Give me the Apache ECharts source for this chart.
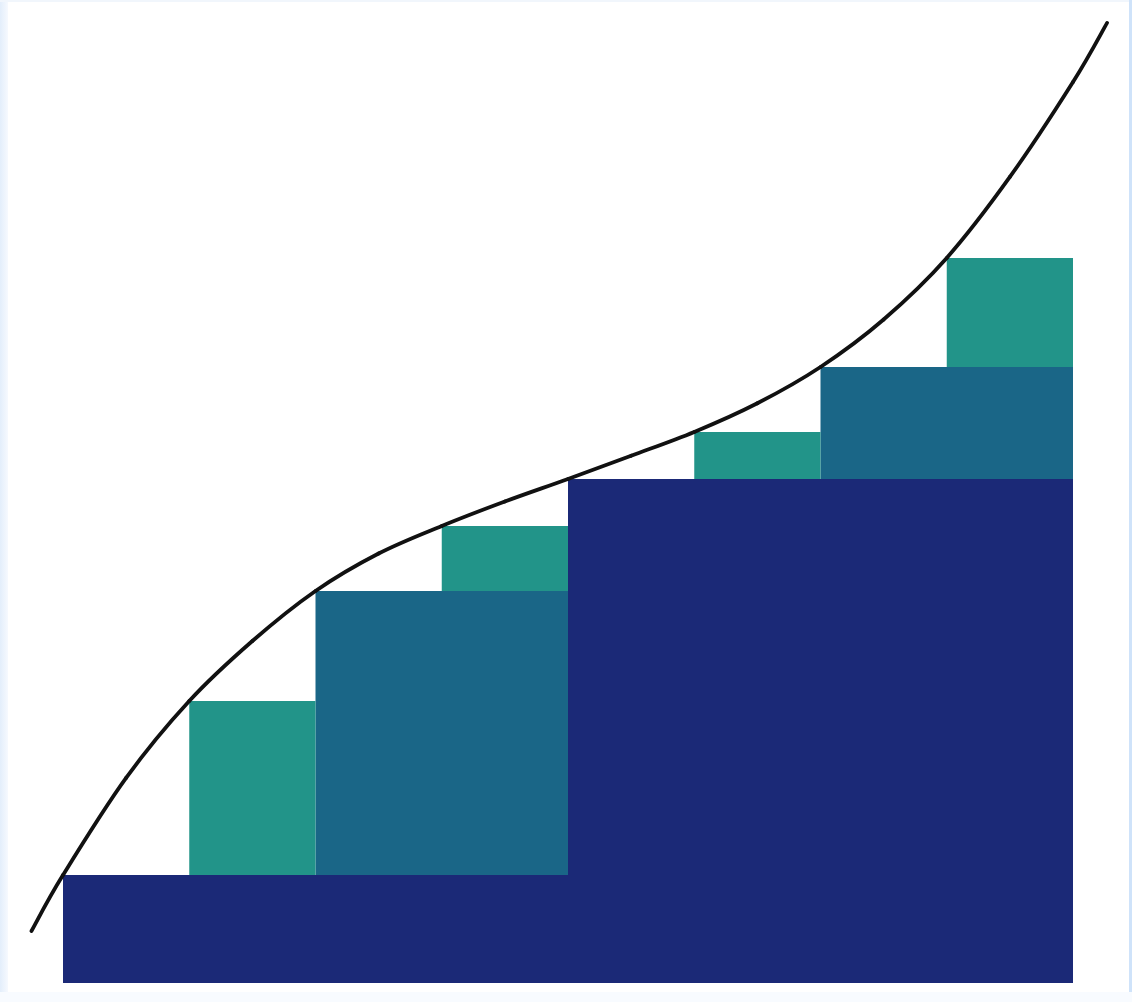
<!DOCTYPE html>
<html>
<head>
<meta charset="utf-8">
<script src="https://cdn.jsdelivr.net/npm/echarts@6/dist/echarts.min.js"></script>
<style>
html,body{margin:0;padding:0;background:#ffffff;}
#chart{width:1132px;height:1002px;}
</style>
</head>
<body>
<div id="chart"></div>
<script>
// Rectangles as [xStart, xEnd, yBottom, yTop]
const level1Bars = [[0, 4, 0, 1.121], [4, 8, 0, 5.234]];
const level2Bars = [[2, 4, 1.121, 4.071], [6, 8, 5.234, 6.397]];
const level3Bars = [[1, 2, 1.121, 2.928], [3, 4, 4.071, 4.746], [5, 6, 5.234, 5.722], [7, 8, 6.397, 7.529]];

// Curve samples: [x, y]
const curveX = [-0.25, 0, 0.5, 1.0, 1.5, 2.0, 2.5, 3.0, 3.5, 4.0, 4.5, 5.0, 5.5, 6.0, 6.5, 7.0, 7.5, 8.0, 8.27];
const curveY = [0.54, 1.121, 2.13, 2.928, 3.551, 4.071, 4.46, 4.746, 5.0, 5.234, 5.475, 5.722, 6.02, 6.397, 6.89, 7.529, 8.37, 9.356, 9.97];

const colors = { level1: '#1b2977', level2: '#1a6687', level3: '#229489', curve: '#111111' };

function rectRenderer(fill) {
  return function (params, api) {
    const p0 = api.coord([api.value(0), api.value(3)]);
    const p1 = api.coord([api.value(1), api.value(2)]);
    return {
      type: 'rect',
      shape: { x: p0[0], y: p0[1], width: p1[0] - p0[0], height: p1[1] - p0[1] },
      style: { fill: fill }
    };
  };
}

// Smooth curve: Catmull-Rom segments through the sampled points, drawn in axis coordinates
function curveRenderer(params, api) {
  const n = curveX.length;
  const i = params.dataIndex;
  if (i >= n - 1) return null;
  const P = (k) => {
    const kk = Math.max(0, Math.min(n - 1, k));
    return api.coord([curveX[kk], curveY[kk]]);
  };
  const p0 = P(i - 1), p1 = P(i), p2 = P(i + 1), p3 = P(i + 2);
  return {
    type: 'bezierCurve',
    shape: {
      x1: p1[0], y1: p1[1], x2: p2[0], y2: p2[1],
      cpx1: p1[0] + (p2[0] - p0[0]) / 6, cpy1: p1[1] + (p2[1] - p0[1]) / 6,
      cpx2: p2[0] - (p3[0] - p1[0]) / 6, cpy2: p2[1] - (p3[1] - p1[1]) / 6
    },
    style: { stroke: colors.curve, lineWidth: 3.8, fill: null, lineCap: 'round' }
  };
}

const chart = echarts.init(document.getElementById('chart'), null, { renderer: 'canvas' });
chart.setOption({
  backgroundColor: '#ffffff',
  animation: false,
  graphic: [
    { type: 'rect', shape: { x: 0, y: 0, width: 8, height: 1002 }, style: { fill: { type: 'linear', x: 0, y: 0, x2: 1, y2: 0, colorStops: [{ offset: 0, color: '#e3eefb' }, { offset: 1, color: '#f6f9fe' }] } }, z: -10 },
    { type: 'rect', shape: { x: 0, y: 0, width: 1132, height: 2 }, style: { fill: '#f1f6fc' }, z: -10 },
    { type: 'rect', shape: { x: 1129, y: 0, width: 3, height: 1002 }, style: { fill: '#cfe3fa' }, z: -10 },
    { type: 'rect', shape: { x: 0, y: 992, width: 1132, height: 10 }, style: { fill: '#f8fbff' }, z: -10 }
  ],
  grid: { left: 25.125, right: 21.125, top: 20, bottom: 19, containLabel: false },
  xAxis: { type: 'value', min: -0.3, max: 8.3, show: false, splitLine: { show: false } },
  yAxis: { type: 'value', min: 0, max: 10, show: false, splitLine: { show: false } },
  series: [
    { type: 'custom', data: level1Bars, renderItem: rectRenderer(colors.level1), encode: { x: [0, 1], y: [2, 3] }, z: 1, silent: true },
    { type: 'custom', data: level2Bars, renderItem: rectRenderer(colors.level2), encode: { x: [0, 1], y: [2, 3] }, z: 2, silent: true },
    { type: 'custom', data: level3Bars, renderItem: rectRenderer(colors.level3), encode: { x: [0, 1], y: [2, 3] }, z: 3, silent: true },
    {
      type: 'custom',
      data: curveX.map((x, i) => [x, curveY[i]]),
      encode: { x: 0, y: 1 },
      renderItem: curveRenderer,
      z: 10,
      silent: true
    }
  ]
});
</script>
</body>
</html>
